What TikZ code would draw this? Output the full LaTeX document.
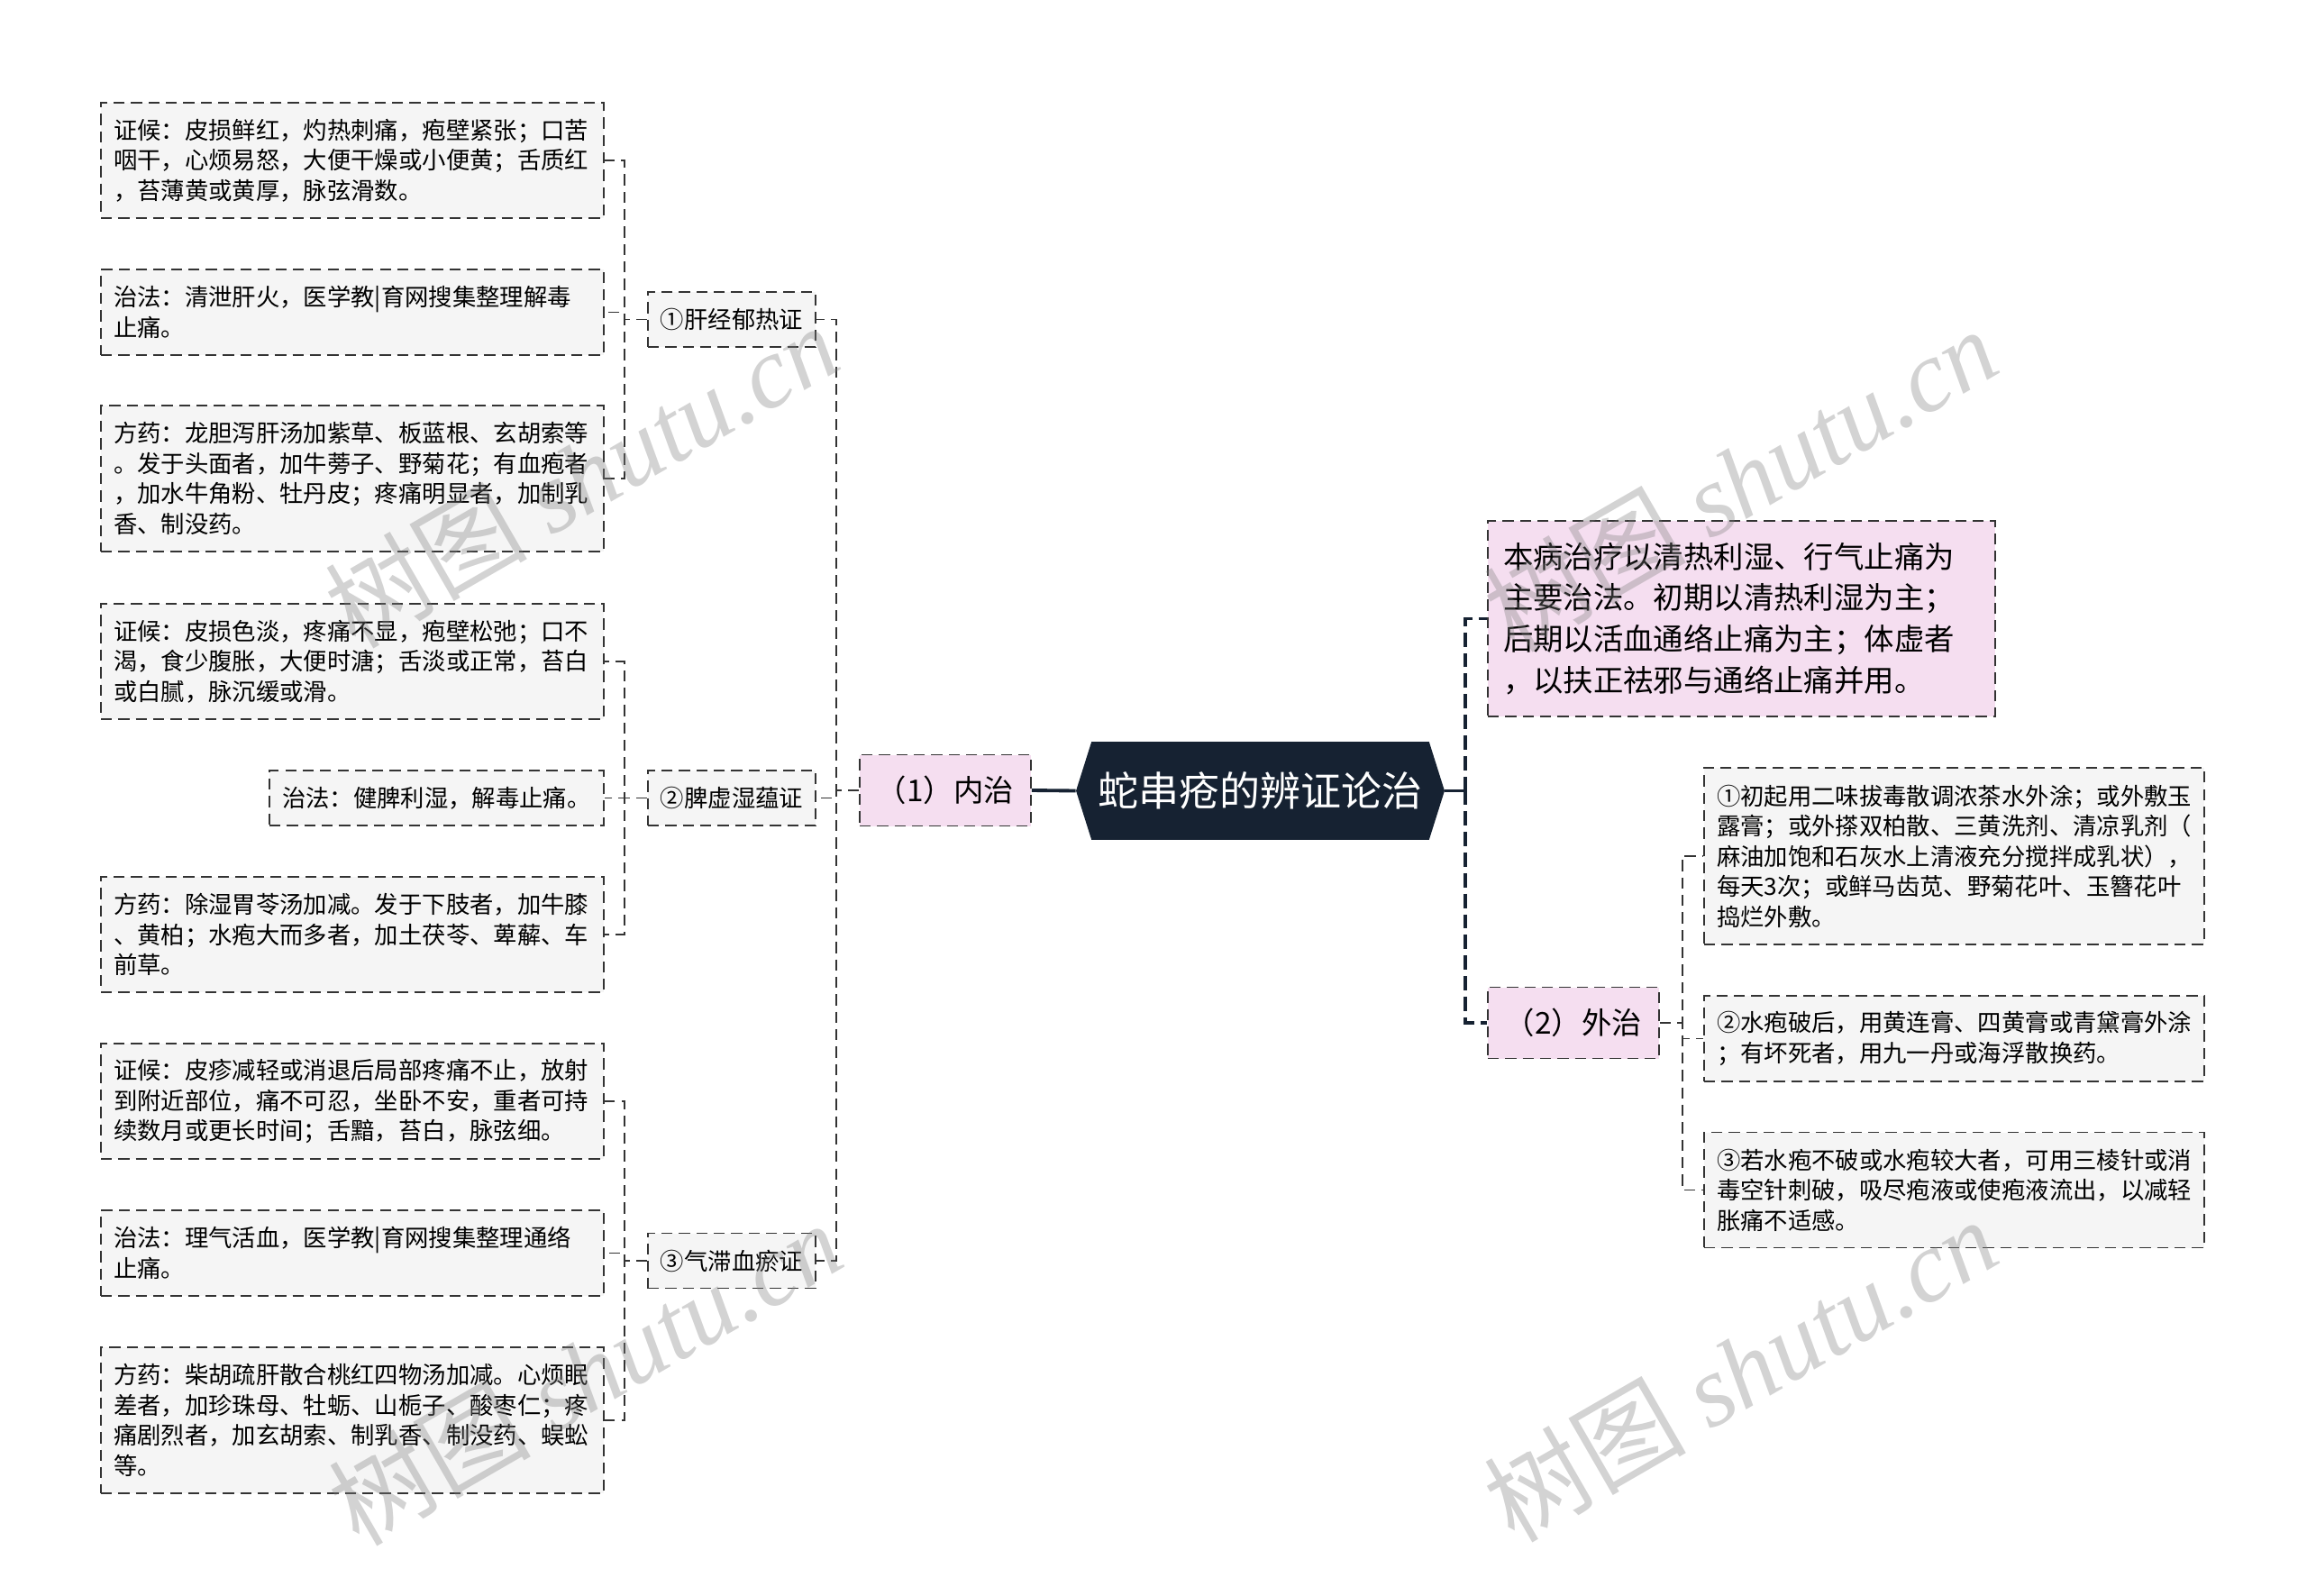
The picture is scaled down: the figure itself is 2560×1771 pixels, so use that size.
\documentclass[tikz,border=0pt]{standalone}
\usepackage{fontspec}
\setmainfont{Noto Sans CJK SC}
\newfontfamily\wmfont{Liberation Serif}
\usepackage{tikz}
\usetikzlibrary{calc}
\usetikzlibrary{shapes.symbols}

\definecolor{leafgray}{HTML}{F5F5F5}
\definecolor{pinkfill}{HTML}{F5DEF0}
\definecolor{rootnavy}{HTML}{162232}
\definecolor{edgegray}{HTML}{333333}

\tikzset{
  box/.style={draw=edgegray, line width=1pt, dash pattern=on 7pt off 4pt, fill=leafgray,
    inner xsep=0.28cm, inner ysep=0pt, font=\fontsize{15}{19.06}\selectfont},
  leaf/.style={box, align=left, text width=10.6cm},
  branch/.style={box, minimum width=3.72cm, minimum height=1.22cm},
  topic/.style={box, fill=pinkfill, font=\fontsize{19}{26}\selectfont,
    minimum width=3.8cm, minimum height=1.58cm},
  root/.style={signal, signal to=west and east, signal pointer angle=145, fill=rootnavy,
    text=white, font=\fontsize{25.6}{30}\selectfont, minimum width=8.18cm,
    minimum height=2.18cm, inner sep=0pt},
  link/.style={draw=edgegray, line width=1pt, dash pattern=on 7pt off 4pt},
  trunk/.style={draw=rootnavy, line width=2.2pt, dash pattern=on 9pt off 4pt},
  rootlink/.style={draw=rootnavy, line width=2.2pt},
  wm/.style={text=gray, text opacity=0.35, rotate=30, font=\fontsize{64}{64}\selectfont}
}

\begin{document}
\begin{tikzpicture}[x=0.02cm, y=-0.02cm]
    \useasboundingbox (0,0) rectangle (2560,1771);
    % root and the two main topics
    \node[root] (R) at (1398.5,877.5) {蛇串疮的辨证论治};
    \node[topic] (N1) at (1049,877) {（1）内治};
    \node[topic] (N2) at (1746,1135) {（2）外治};
    \node[topic, align=left, text width=10.58cm, inner xsep=0.34cm, minimum width=11.26cm,
      minimum height=4.34cm] (P) at (1932.5,686.5)
      {本病治疗以清热利湿、行气止痛为\\主要治法。初期以清热利湿为主；\\后期以活血通络止痛为主；体虚者\\，以扶正祛邪与通络止痛并用。};

    % left side
    \node[branch] (B1) at (812,354.5) {①肝经郁热证};
    \node[branch] (B2) at (812,885.5) {②脾虚湿蕴证};
    \node[branch] (B3) at (812,1399) {③气滞血瘀证};

    \node[leaf, minimum height=2.56cm] (L1) at (391,178)
      {证候：皮损鲜红，灼热刺痛，疱壁紧张；口苦\\咽干，心烦易怒，大便干燥或小便黄；舌质红\\，苔薄黄或黄厚，脉弦滑数。};
    \node[leaf, minimum height=1.9cm] (L2) at (391,346.5)
      {治法：清泄肝火，医学教|育网搜集整理解毒\\止痛。};
    \node[leaf, minimum height=3.24cm] (L3) at (391,531)
      {方药：龙胆泻肝汤加紫草、板蓝根、玄胡索等\\。发于头面者，加牛蒡子、野菊花；有血疱者\\，加水牛角粉、牡丹皮；疼痛明显者，加制乳\\香、制没药。};
    \node[leaf, minimum height=2.56cm] (L4) at (391,734)
      {证候：皮损色淡，疼痛不显，疱壁松弛；口不\\渴，食少腹胀，大便时溏；舌淡或正常，苔白\\或白腻，脉沉缓或滑。};
    \node[leaf, text width=6.86cm, minimum height=1.22cm] (L5) at (484.5,885.5)
      {治法：健脾利湿，解毒止痛。};
    \node[leaf, minimum height=2.56cm] (L6) at (391,1037)
      {方药：除湿胃苓汤加减。发于下肢者，加牛膝\\、黄柏；水疱大而多者，加土茯苓、萆薢、车\\前草。};
    \node[leaf, minimum height=2.56cm] (L7) at (391,1222)
      {证候：皮疹减轻或消退后局部疼痛不止，放射\\到附近部位，痛不可忍，坐卧不安，重者可持\\续数月或更长时间；舌黯，苔白，脉弦细。};
    \node[leaf, minimum height=1.9cm] (L8) at (391,1390.5)
      {治法：理气活血，医学教|育网搜集整理通络\\止痛。};
    \node[leaf, minimum height=3.24cm] (L9) at (391,1576)
      {方药：柴胡疏肝散合桃红四物汤加减。心烦眠\\差者，加珍珠母、牡蛎、山栀子、酸枣仁；疼\\痛剧烈者，加玄胡索、制乳香、制没药、蜈蚣\\等。};

    % right side
    \node[leaf, text width=10.54cm, minimum height=3.92cm] (Q1) at (2168.5,950)
      {①初起用二味拔毒散调浓茶水外涂；或外敷玉\\露膏；或外搽双柏散、三黄洗剂、清凉乳剂（\\麻油加饱和石灰水上清液充分搅拌成乳状），\\每天3次；或鲜马齿苋、野菊花叶、玉簪花叶\\捣烂外敷。};
    \node[leaf, text width=10.54cm, minimum height=1.9cm] (Q2) at (2168.5,1152.5)
      {②水疱破后，用黄连膏、四黄膏或青黛膏外涂\\；有坏死者，用九一丹或海浮散换药。};
    \node[leaf, text width=10.54cm, minimum height=2.56cm] (Q3) at (2168.5,1320.5)
      {③若水疱不破或水疱较大者，可用三棱针或消\\毒空针刺破，吸尽疱液或使疱液流出，以减轻\\胀痛不适感。};

    % connectors
    \draw[rootlink] (N1.east) -- (R.west);
    \draw[rootlink] (R.east) -- ++(23,0) coordinate (hub);
    \draw[trunk] (hub) |- (P.west);
    \draw[trunk] (hub) |- (N2.west);
    \foreach \br in {B1,B2,B3}
      \draw[link] (N1.west) -- ++(-25,0) |- (\br.east);
    \foreach \lf/\br in {L1/B1,L2/B1,L3/B1,L4/B2,L5/B2,L6/B2,L7/B3,L8/B3,L9/B3}
      \draw[link] (\br.west) -- ++(-25,0) |- (\lf.east);
    \foreach \lf in {Q1,Q2,Q3}
      \draw[link] (N2.east) -- ++(25,0) |- (\lf.west);

    % watermarks
    \foreach \wx/\wy in {645/527, 649/1523, 1931/531, 1931/1519}
      \node[wm] (wm-\wx-\wy) at (\wx,\wy) {树图 {\wmfont\itshape shutu.cn}};
\end{tikzpicture}
\end{document}
